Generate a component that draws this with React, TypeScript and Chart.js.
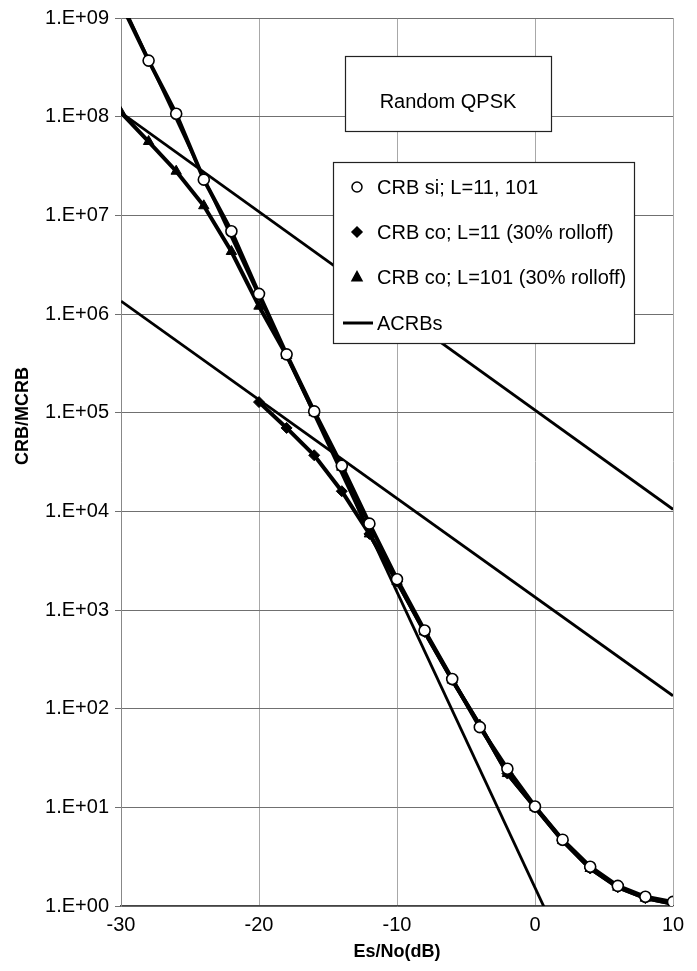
import React, { useEffect, useRef } from 'react';
import { Chart, registerables } from 'chart.js';

Chart.register(...registerables);

// Es/No (dB) grid of the simulated points
const snrDb = [-30, -28, -26, -24, -22, -20, -18, -16, -14, -12, -10, -8, -6, -4, -2, 0, 2, 4, 6, 8, 10];

// CRB si; L=11, 101 (open circles)
const crbSi = [1.4e9, 3.7e8, 1.07e8, 2.3e7, 6.9e6, 1.6e6, 3.9e5, 1.03e5, 2.9e4, 7.5e3, 2.05e3, 6.2e2, 2.0e2, 6.5e1, 2.46e1, 1.02e1, 4.7, 2.5, 1.6, 1.24, 1.1];

// CRB co; L=11 (30% rolloff) (diamonds)
const crbCoL11 = [null, null, null, null, null, 1.28e5, 7.0e4, 3.7e4, 1.6e4, 5.9e3, 1.95e3, 6.0e2, 1.95e2, 6.8e1, 2.2e1, 1.0e1, 4.6, 2.4, 1.55, 1.2, 1.05];

// CRB co; L=101 (30% rolloff) (triangles)
const crbCoL101 = [1.1e8, 5.6e7, 2.8e7, 1.25e7, 4.3e6, 1.2e6, 3.8e5, 1.0e5, 2.8e4, 5.9e3, 1.95e3, 6.0e2, 1.95e2, 6.8e1, 2.2e1, 1.0e1, 4.6, 2.4, 1.55, 1.2, 1.05];

// ACRB asymptotes (straight lines on the log scale), end points
const acrbHighX = [-30, 10];
const acrbHighY = [1.1e8, 1.05e4];
const acrbMidX = [-30, 10];
const acrbMidY = [1.35e6, 1.35e2];
const acrbSteepX = [-30, 1];
const acrbSteepY = [1.5e9, 0.77];

const xTickValues = [-30, -20, -10, 0, 10];
const yTickExponents = [0, 1, 2, 3, 4, 5, 6, 7, 8, 9];

const chartTitle = 'Random QPSK';
const xTitle = 'Es/No(dB)';
const yTitle = 'CRB/MCRB';
const labelSi = 'CRB si; L=11, 101';
const labelCo11 = 'CRB co; L=11 (30% rolloff)';
const labelCo101 = 'CRB co; L=101 (30% rolloff)';
const labelAcrb = 'ACRBs';

const FONT = '"Liberation Sans", Arial, Helvetica, sans-serif';
const TEXT_SIZE = 20;

function toPoints(xs: number[], ys: (number | null)[]) {
  const out: { x: number; y: number }[] = [];
  xs.forEach((x, i) => {
    const y = ys[i];
    if (y !== null && y !== undefined) out.push({ x, y });
  });
  return out;
}

function drawMarker(ctx: CanvasRenderingContext2D, style: string, x: number, y: number, r: number, fill: string) {
  ctx.save();
  ctx.beginPath();
  if (style === 'circle') {
    ctx.arc(x, y, r, 0, Math.PI * 2);
  } else if (style === 'rectRot') {
    ctx.moveTo(x, y - r);
    ctx.lineTo(x + r, y);
    ctx.lineTo(x, y + r);
    ctx.lineTo(x - r, y);
    ctx.closePath();
  } else if (style === 'triangle') {
    ctx.moveTo(x, y - r * 1.1);
    ctx.lineTo(x + r, y + r * 0.75);
    ctx.lineTo(x - r, y + r * 0.75);
    ctx.closePath();
  }
  ctx.fillStyle = fill;
  ctx.fill();
  ctx.lineWidth = 1.5;
  ctx.strokeStyle = '#000';
  ctx.stroke();
  ctx.restore();
}

const boxesPlugin = {
  id: 'boxes',
  afterDraw(chart: any) {
    const ctx: CanvasRenderingContext2D = chart.ctx;
    ctx.save();
    // Y axis title (placed like the original, a little above the plot centre)
    ctx.save();
    ctx.translate(23, 416);
    ctx.rotate(-Math.PI / 2);
    ctx.fillStyle = '#000';
    ctx.font = `bold 18px ${FONT}`;
    ctx.textAlign = 'center';
    ctx.textBaseline = 'middle';
    ctx.fillText(yTitle, 0, 0);
    ctx.restore();
  },
  afterDatasetsDraw(chart: any) {
    const ctx: CanvasRenderingContext2D = chart.ctx;
    ctx.save();
    // Title box
    ctx.fillStyle = '#fff';
    ctx.fillRect(345, 56, 206, 75);
    ctx.strokeStyle = '#222';
    ctx.lineWidth = 1.2;
    ctx.strokeRect(345.5, 56.5, 206, 75);
    ctx.fillStyle = '#000';
    ctx.font = `${TEXT_SIZE}px ${FONT}`;
    ctx.textAlign = 'center';
    ctx.textBaseline = 'alphabetic';
    ctx.fillText(chartTitle, 448, 101 + 0.358 * TEXT_SIZE);

    // Legend box
    ctx.fillStyle = '#fff';
    ctx.fillRect(333, 162, 301, 181);
    ctx.strokeStyle = '#222';
    ctx.strokeRect(333.5, 162.5, 301, 181);

    const seen = new Set<string>();
    const items: any[] = [];
    chart.data.datasets.forEach((ds: any) => {
      if (seen.has(ds.label)) return;
      seen.add(ds.label);
      items.push(ds);
    });
    const rowY = [187, 232, 277, 323];
    ctx.textAlign = 'left';
    items.forEach((ds, i) => {
      const y = rowY[i];
      if (ds.pointRadius > 0) {
        drawMarker(ctx, ds.pointStyle, 357, y, 5, ds.pointBackgroundColor);
      } else {
        ctx.beginPath();
        ctx.moveTo(343, y);
        ctx.lineTo(373, y);
        ctx.lineWidth = 3;
        ctx.strokeStyle = '#000';
        ctx.stroke();
      }
      ctx.fillStyle = '#000';
      ctx.font = `${TEXT_SIZE}px ${FONT}`;
      ctx.fillText(ds.label, 377, y + 0.358 * TEXT_SIZE);
    });
    ctx.restore();
  },
};

export default function App() {
  const canvasRef = useRef<HTMLCanvasElement | null>(null);

  useEffect(() => {
    if (!canvasRef.current) return;
    const seriesLine = 4;
    const acrbLine = 2.8;
    const chart = new Chart(canvasRef.current, {
      type: 'scatter',
      data: {
        datasets: [
          {
            label: labelSi,
            data: toPoints(snrDb, crbSi),
            showLine: true,
            borderColor: '#000',
            borderWidth: seriesLine,
            pointStyle: 'circle',
            pointRadius: 5.5,
            pointBackgroundColor: '#fff',
            pointBorderColor: '#000',
            pointBorderWidth: 1.6,
            order: 1,
          },
          {
            label: labelCo11,
            data: toPoints(snrDb, crbCoL11),
            showLine: true,
            borderColor: '#000',
            borderWidth: seriesLine,
            pointStyle: 'rectRot',
            pointRadius: 5.5,
            pointBackgroundColor: '#000',
            pointBorderColor: '#000',
            pointBorderWidth: 1,
            order: 2,
          },
          {
            label: labelCo101,
            data: toPoints(snrDb, crbCoL101),
            showLine: true,
            borderColor: '#000',
            borderWidth: seriesLine,
            pointStyle: 'triangle',
            pointRadius: 6,
            pointBackgroundColor: '#000',
            pointBorderColor: '#000',
            pointBorderWidth: 1,
            order: 3,
          },
          {
            label: labelAcrb,
            data: toPoints(acrbHighX, acrbHighY),
            showLine: true,
            borderColor: '#000',
            borderWidth: acrbLine,
            pointRadius: 0,
            order: 4,
          },
          {
            label: labelAcrb,
            data: toPoints(acrbMidX, acrbMidY),
            showLine: true,
            borderColor: '#000',
            borderWidth: acrbLine,
            pointRadius: 0,
            order: 4,
          },
          {
            label: labelAcrb,
            data: toPoints(acrbSteepX, acrbSteepY),
            showLine: true,
            borderColor: '#000',
            borderWidth: acrbLine,
            pointRadius: 0,
            order: 4,
          },
        ],
      },
      options: {
        animation: false,
        responsive: false,
        devicePixelRatio: 1,
        layout: { padding: { top: 16, right: 24, left: 0, bottom: 0 } },
        plugins: {
          legend: { display: false },
          tooltip: { enabled: false },
          title: { display: false },
        },
        scales: {
          x: {
            type: 'linear',
            min: -30,
            max: 10,
            afterBuildTicks: (scale: any) => {
              scale.ticks = xTickValues.map((v) => ({ value: v }));
            },
            afterFit: (scale: any) => {
              scale.height = 65;
            },
            ticks: {
              color: '#000',
              font: { family: FONT, size: TEXT_SIZE },
              padding: 7,
              maxRotation: 0,
              callback: (v: any) => String(v),
            },
            grid: {
              color: '#a8a8a8',
              lineWidth: 1,
              drawTicks: false,
            },
            border: { display: true, color: '#444', width: 1.2 },
            title: {
              display: true,
              text: xTitle,
              color: '#000',
              font: { family: FONT, size: 18, weight: 'bold' },
              padding: { top: 0, bottom: 8 },
            },
          },
          y: {
            type: 'logarithmic',
            min: 1,
            max: 1e9,
            afterBuildTicks: (scale: any) => {
              scale.ticks = yTickExponents.map((e) => ({ value: Math.pow(10, e), major: true }));
            },
            afterFit: (scale: any) => {
              scale.width = 121;
            },
            ticks: {
              color: '#000',
              font: { family: FONT, size: TEXT_SIZE },
              padding: 6,
              autoSkip: false,
              callback: (v: any) => {
                const e = Math.round(Math.log10(Number(v)));
                return '1.E+' + String(e).padStart(2, '0');
              },
            },
            grid: {
              color: '#707070',
              lineWidth: 1,
              drawTicks: true,
              tickLength: 6,
            },
            border: { display: true, color: '#888', width: 1 },
            title: { display: false },
          },
        },
      },
      plugins: [boxesPlugin],
    } as any);
    return () => chart.destroy();
  }, []);

  return (
    <div style={{ position: 'absolute', left: 0, top: 0, width: 697, height: 971, background: '#fff' }}>
      <canvas ref={canvasRef} width={697} height={971} />
    </div>
  );
}
